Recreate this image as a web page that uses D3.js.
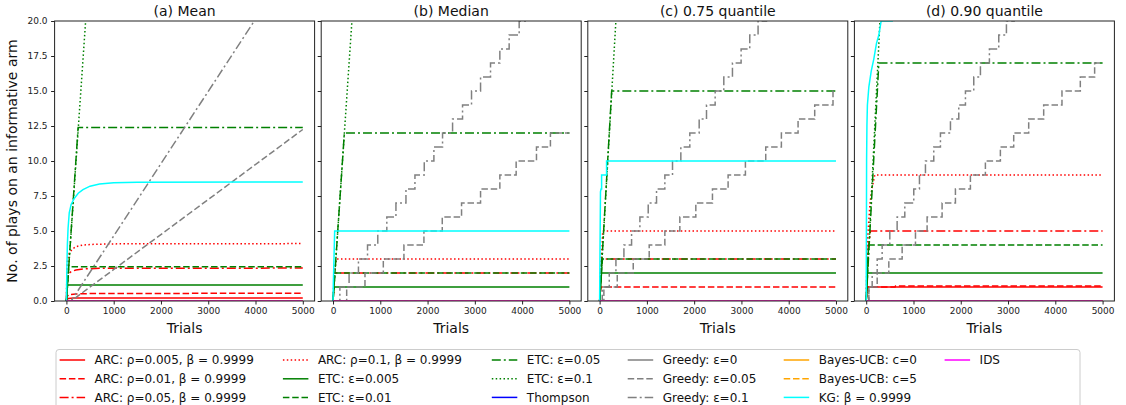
<!DOCTYPE html>
<html>
<head>
<meta charset="utf-8">
<script src="https://cdn.jsdelivr.net/npm/d3@7"></script>
<style>
body { margin: 0; background: #fff; }
svg { display: block; font-family: "DejaVu Sans", sans-serif; }
</style>
</head>
<body>
<svg id="chart" width="1126" height="405"></svg>
<script>
// legend entries, in plotting order
const seriesNames = [
    "ARC: ρ=0.005, β = 0.9999", "ARC: ρ=0.01, β = 0.9999", "ARC: ρ=0.05, β = 0.9999", "ARC: ρ=0.1, β = 0.9999",
    "ETC: ε=0.005", "ETC: ε=0.01", "ETC: ε=0.05", "ETC: ε=0.1", "Thompson",
    "Greedy: ε=0", "Greedy: ε=0.05", "Greedy: ε=0.1",
    "Bayes-UCB: c=0", "Bayes-UCB: c=5", "KG: β = 0.9999", "IDS"
];
const seriesColors = ["#ff0000", "#ff0000", "#ff0000", "#ff0000", "#008000", "#008000", "#008000", "#008000", "#0000ff",
    "#808080", "#808080", "#808080", "#ffa500", "#ffa500", "#00ffff", "#ff00ff"];
const seriesStyle = ["solid", "dashed", "dashdot", "dotted", "solid", "dashed", "dashdot", "dotted", "solid",
    "solid", "dashed", "dashdot", "solid", "dashed", "solid", "solid"];

const panelTitles = ["(a) Mean", "(b) Median", "(c) 0.75 quantile", "(d) 0.90 quantile"];
const xTicks = [0, 1000, 2000, 3000, 4000, 5000];
const yTicks = [0, 2.5, 5, 7.5, 10, 12.5, 15, 17.5, 20];

const zeroLine = [[0, 0], [5000, 0]];

// trial at which the greedy staircases step up by one play
const medianGreedy05 = [289, 676, 1064, 1500, 1923, 2311, 2719, 3121, 3529, 3874, 4304, 4599];
const medianGreedy10 = [145, 340, 538, 730, 947, 1138, 1331, 1543, 1733, 1930, 2134, 2317, 2529, 2740, 2930, 3121, 3332, 3529, 3726, 3938, 4130];
const q75Greedy05 = [90, 373, 711, 1049, 1380, 1697, 2035, 2387, 2718, 3084, 3514, 3845, 4198, 4550, 4937];
const q75Greedy10 = [56, 204, 345, 514, 676, 852, 1028, 1204, 1380, 1542, 1718, 1908, 2106, 2261, 2444, 2627, 2810, 2993, 3176, 3352, 3530];
const q90Greedy05 = [56, 232, 478, 760, 1042, 1288, 1605, 1887, 2204, 2521, 2838, 3120, 3437, 3754, 4141, 4529, 4832];
const q90Greedy10 = [56, 126, 232, 337, 499, 654, 816, 1006, 1126, 1253, 1429, 1570, 1782, 1958, 2099, 2275, 2416, 2606, 2804, 2966, 3130];

function stairs(xs) {
    const pts = [[0, 0]];
    xs.forEach((x, i) => { pts.push([x, i]); pts.push([x, i + 1]); });
    pts.push([5000, xs.length]);
    return pts;
}

const meanData = [
    [[0, 0], [10, 0.12], [40, 0.18], [150, 0.21], [5000, 0.22]],
    [[0, 0], [10, 0.3], [50, 0.45], [200, 0.5], [600, 0.54], [5000, 0.55]],
    [[0, 0], [10, 1.5], [40, 1.95], [100, 2.1], [200, 2.22], [400, 2.3], [800, 2.34], [5000, 2.35]],
    [[0, 0], [10, 2.2], [25, 3.0], [60, 3.4], [120, 3.7], [200, 3.88], [350, 4.0], [600, 4.05], [1000, 4.08], [5000, 4.1]],
    [[0, 0], [23, 1.15], [5000, 1.15]],
    [[0, 0], [49, 2.45], [5000, 2.45]],
    [[0, 0], [248, 12.4], [5000, 12.4]],
    [[0, 0], [500, 24.6], [5000, 24.6]],
    zeroLine,
    zeroLine,
    [[0, 0], [100, 0], [5000, 12.25]],
    [[0, 0], [100, 0], [5000, 25.3]],
    zeroLine,
    zeroLine,
    [[0, 0], [8, 2.0], [20, 4.0], [35, 5.2], [60, 6.3], [100, 6.9], [160, 7.3], [250, 7.7], [350, 7.95], [500, 8.2], [700, 8.35], [1000, 8.45], [1500, 8.48], [5000, 8.5]],
    zeroLine
];

const medianData = [
    zeroLine,
    zeroLine,
    [[0, 0], [15, 1], [30, 2], [5000, 2]],
    [[0, 0], [15, 1], [30, 2], [70, 3], [5000, 3]],
    [[0, 0], [20, 1], [5000, 1]],
    [[0, 0], [20, 1], [40, 2], [5000, 2]],
    [[0, 0], [240, 12], [5000, 12]],
    [[0, 0], [500, 25], [5000, 25]],
    zeroLine,
    zeroLine,
    stairs(medianGreedy05),
    stairs(medianGreedy10),
    zeroLine,
    zeroLine,
    [[0, 0], [5, 1], [35, 5], [5000, 5]],
    zeroLine
];

const q75Data = [
    zeroLine,
    [[0, 0], [30, 1], [5000, 1]],
    [[0, 0], [15, 1], [30, 2], [45, 3], [5000, 3]],
    [[0, 0], [15, 2], [35, 3], [55, 4], [65, 5], [5000, 5]],
    [[0, 0], [40, 2], [5000, 2]],
    [[0, 0], [60, 3], [5000, 3]],
    [[0, 0], [255, 15], [5000, 15]],
    [[0, 0], [430, 25], [5000, 25]],
    zeroLine,
    zeroLine,
    stairs(q75Greedy05),
    stairs(q75Greedy10),
    zeroLine,
    zeroLine,
    [[0, 0], [18, 7.8], [30, 8], [42, 8], [42, 9], [147, 9], [147, 10], [5000, 10]],
    zeroLine
];

const q90Data = [
    [[0, 0], [15, 1], [5000, 1]],
    [[0, 0], [20, 1], [610, 1], [620, 1.08], [5000, 1.08]],
    [[0, 0], [20, 3], [50, 4], [91, 5], [5000, 5]],
    [[0, 0], [10, 2], [20, 4], [42, 5.1], [80, 7], [126, 8.1], [150, 8.5], [182, 9], [5000, 9]],
    [[0, 0], [25, 2], [5000, 2]],
    [[0, 0], [50, 4], [5000, 4]],
    [[0, 0], [267, 17], [5000, 17]],
    [[0, 0], [450, 31], [5000, 31]],
    zeroLine,
    zeroLine,
    stairs(q90Greedy05),
    stairs(q90Greedy10),
    zeroLine,
    zeroLine,
    [[0, 0], [5, 6], [8, 10], [15, 12.5], [25, 14], [56, 15.3], [105, 16.4], [161, 17.3], [217, 18.4], [267, 19], [316, 20], [549, 20], [549, 21], [5000, 21]],
    zeroLine
];

const panelData = [meanData, medianData, q75Data, q90Data];

// dash patterns like matplotlib's linestyles
const dashes = { solid: null, dashed: "6.5,2.8", dashdot: "9,3,2,3", dotted: "1.5,2.4" };

const svg = d3.select("#chart");
const panelLeft = 54.6, panelStep = 266.6, panelWidth = 260;
const plotTop = 21, plotBottom = 301;

const y = d3.scaleLinear().domain([0, 20]).range([plotBottom, plotTop]);

panelData.forEach((data, p) => {
    const left = panelLeft + p * panelStep;
    const x = d3.scaleLinear().domain([-250, 5250]).range([left, left + panelWidth]);

    svg.append("clipPath").attr("id", "clip" + p)
        .append("rect")
        .attr("x", left).attr("y", plotTop)
        .attr("width", panelWidth).attr("height", plotBottom - plotTop);

    const line = d3.line().x(d => x(d[0])).y(d => y(d[1]));

    const g = svg.append("g").attr("clip-path", `url(#clip${p})`);
    data.forEach((pts, i) => {
        g.append("path")
            .attr("d", line(pts))
            .attr("fill", "none")
            .attr("stroke", seriesColors[i])
            .attr("stroke-width", 1.5)
            .attr("stroke-dasharray", dashes[seriesStyle[i]]);
    });

    // spines
    svg.append("rect")
        .attr("x", left).attr("y", plotTop)
        .attr("width", panelWidth).attr("height", plotBottom - plotTop)
        .attr("fill", "none").attr("stroke", "#222").attr("stroke-width", 1);

    const xAxis = svg.append("g")
        .attr("transform", `translate(0,${plotBottom})`)
        .call(d3.axisBottom(x).tickValues(xTicks).tickSize(3.5).tickPadding(3.5).tickFormat(d3.format("d")));
    xAxis.select(".domain").remove();
    xAxis.selectAll("text").attr("font-size", 9).attr("font-family", "DejaVu Sans").attr("fill", "#222");
    xAxis.selectAll("line").attr("stroke", "#222");

    const yAxis = svg.append("g")
        .attr("transform", `translate(${left},0)`)
        .call(d3.axisLeft(y).tickValues(yTicks).tickSize(3.5).tickPadding(3.5)
            .tickFormat(p === 0 ? d3.format(".1f") : ""));
    yAxis.select(".domain").remove();
    yAxis.selectAll("text").attr("font-size", 9).attr("font-family", "DejaVu Sans").attr("fill", "#222");
    yAxis.selectAll("line").attr("stroke", "#222");

    svg.append("text")
        .attr("x", left + panelWidth / 2).attr("y", 16)
        .attr("text-anchor", "middle")
        .attr("font-size", 14)
        .attr("fill", "#111")
        .text(panelTitles[p]);

    svg.append("text")
        .attr("x", left + panelWidth / 2).attr("y", 333)
        .attr("text-anchor", "middle")
        .attr("font-size", 14)
        .attr("fill", "#111")
        .text("Trials");
});

svg.append("text")
    .attr("transform", `translate(17,${(plotTop + plotBottom) / 2}) rotate(-90)`)
    .attr("text-anchor", "middle")
    .attr("font-size", 14)
    .attr("fill", "#111")
    .text("No. of plays on an informative arm");

// legend, column-major with three rows
const legendLineX = [59.6, 282.9, 491.8, 627.7, 783.7, 944.6];
const legendRowY = [360, 378.8, 397.4];

svg.append("rect")
    .attr("x", 56).attr("y", 349.5)
    .attr("width", 1024).attr("height", 80)
    .attr("rx", 3)
    .attr("fill", "#fff").attr("fill-opacity", 0.8)
    .attr("stroke", "#cccccc").attr("stroke-width", 1);

const legend = svg.append("g");
seriesNames.forEach((name, i) => {
    const col = Math.floor(i / 3), row = i % 3;
    const lx = legendLineX[col], ly = legendRowY[row];
    legend.append("line")
        .attr("x1", lx).attr("x2", lx + 25.5)
        .attr("y1", ly).attr("y2", ly)
        .attr("stroke", seriesColors[i])
        .attr("stroke-width", 1.5)
        .attr("stroke-dasharray", dashes[seriesStyle[i]]);
    legend.append("text")
        .attr("x", lx + 35).attr("y", ly + 4.2)
        .attr("font-size", 12)
        .attr("fill", "#111")
        .text(name);
});
</script>
</body>
</html>
